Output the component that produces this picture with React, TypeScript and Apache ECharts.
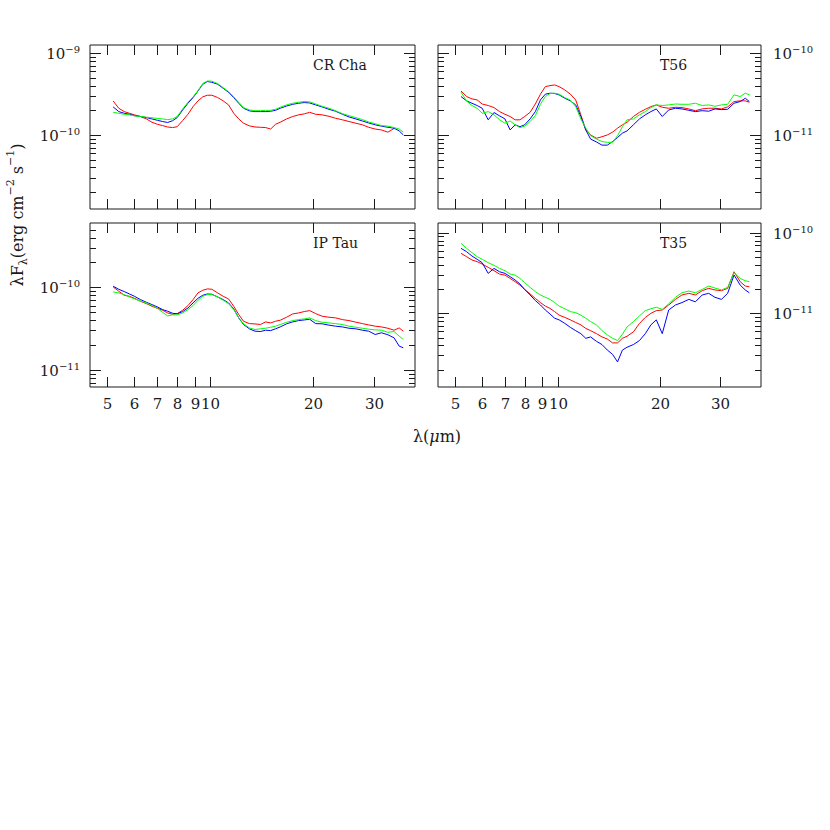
import React, { useEffect, useRef } from "react";
import * as echarts from "echarts";

// wavelength grid (micron), shared by all spectra
const lambda = [5.2, 5.4, 5.6, 5.8, 6.0, 6.25, 6.5, 6.75, 7.0, 7.25, 7.5, 7.75, 8.0, 8.3, 8.6, 8.9, 9.2, 9.5, 9.8, 10.1, 10.5, 10.9, 11.3, 11.7, 12.1, 12.5, 13.0, 13.5, 14.0, 14.5, 15.0, 15.5, 16.0, 16.7, 17.4, 18.1, 18.8, 19.5, 20.3, 21.2, 22.2, 23.2, 24.3, 25.4, 26.6, 27.8, 29.0, 30.3, 31.6, 33.0, 34.4, 35.6, 36.6];

// CR Cha, units of 1e-10 erg cm-2 s-1
const crChaRed = [2.6, 2.12, 1.93, 1.84, 1.76, 1.68, 1.57, 1.43, 1.35, 1.30, 1.25, 1.23, 1.26, 1.50, 1.79, 2.22, 2.61, 2.92, 3.06, 3.06, 2.87, 2.61, 2.33, 1.84, 1.57, 1.39, 1.29, 1.25, 1.24, 1.23, 1.18, 1.35, 1.43, 1.57, 1.68, 1.76, 1.81, 1.89, 1.79, 1.76, 1.69, 1.60, 1.53, 1.46, 1.39, 1.33, 1.24, 1.18, 1.15, 1.08, 1.2, null, null];
const crChaBlue = [2.2, 1.93, 1.84, 1.79, 1.72, 1.68, 1.63, 1.57, 1.51, 1.46, 1.42, 1.49, 1.63, 2.02, 2.44, 2.86, 3.45, 4.17, 4.50, 4.41, 4.17, 3.72, 3.33, 2.86, 2.44, 2.12, 1.97, 1.93, 1.93, 1.93, 1.95, 2.00, 2.12, 2.26, 2.37, 2.44, 2.49, 2.46, 2.33, 2.20, 2.06, 1.95, 1.79, 1.66, 1.57, 1.48, 1.40, 1.33, 1.28, 1.24, 1.21, 1.12, 1.00];
const crChaGreen = [1.89, 1.84, 1.79, 1.76, 1.71, 1.68, 1.65, 1.62, 1.59, 1.57, 1.54, 1.57, 1.68, 2.08, 2.51, 2.92, 3.49, 4.25, 4.58, 4.54, 4.25, 3.79, 3.39, 2.92, 2.51, 2.16, 2.02, 1.98, 1.98, 2.00, 2.00, 2.06, 2.18, 2.33, 2.44, 2.51, 2.56, 2.54, 2.39, 2.24, 2.12, 1.98, 1.82, 1.72, 1.63, 1.54, 1.44, 1.37, 1.30, 1.28, 1.23, 1.18, 1.08];

// T56, units of 1e-11
const t56Red = [3.45, 2.95, 2.76, 2.68, 2.39, 2.29, 2.16, 1.93, 1.79, 1.68, 1.53, 1.53, 1.68, 1.89, 2.39, 3.15, 3.90, 4.01, 4.09, 3.90, 3.55, 3.15, 2.68, 1.76, 1.15, 1.00, 0.91, 0.95, 1.00, 1.08, 1.21, 1.33, 1.43, 1.68, 1.89, 2.06, 2.22, 2.33, 2.18, 2.12, 2.18, 2.16, 2.08, 1.98, 2.08, 2.12, 2.12, 2.08, 2.20, 2.56, 2.61, 2.61, 2.51];
const t56Blue = [2.95, 2.61, 2.44, 2.29, 2.12, 1.53, 1.88, 1.71, 1.57, 1.15, 1.33, 1.26, 1.33, 1.57, 1.93, 2.68, 3.15, 3.24, 3.21, 3.09, 2.81, 2.61, 2.33, 1.68, 1.15, 0.89, 0.82, 0.75, 0.75, 0.83, 0.93, 1.05, 1.12, 1.33, 1.57, 1.76, 1.93, 2.08, 1.68, 2.02, 2.12, 2.08, 2.00, 1.93, 1.98, 1.95, 2.08, 2.04, 2.06, 2.44, 2.56, 2.81, 2.56];
const t56Green = [3.35, 2.6, 2.29, 2.12, 1.84, 1.93, 1.76, 1.53, 1.39, 1.48, 1.33, 1.23, 1.28, 1.46, 1.72, 2.37, 2.95, 3.21, 3.24, 3.15, 2.86, 2.66, 2.22, 1.57, 1.21, 0.98, 0.89, 0.83, 0.81, 0.81, 0.98, 1.26, 1.53, 1.57, 1.76, 1.93, 2.16, 2.33, 2.29, 2.33, 2.39, 2.37, 2.37, 2.44, 2.29, 2.33, 2.24, 2.33, 2.37, 3.09, 2.95, 3.24, 3.09];

// IP Tau, units of 1e-11
const ipTauRed = [10.1, 8.95, 8.0, 7.78, 7.36, 6.77, 6.34, 5.89, 5.57, 5.27, 4.89, 4.71, 4.80, 5.27, 6.0, 7.09, 8.54, 9.2, 9.55, 9.46, 8.54, 7.78, 7.22, 5.89, 4.67, 3.88, 3.63, 3.6, 3.54, 3.81, 3.70, 3.88, 3.99, 4.34, 4.76, 4.89, 5.08, 5.22, 4.80, 4.46, 4.34, 4.26, 4.06, 3.95, 3.78, 3.63, 3.50, 3.38, 3.31, 3.19, 3.02, 3.22, 2.94];
const ipTauBlue = [10.3, 9.45, 8.87, 8.30, 7.78, 7.09, 6.58, 6.17, 5.78, 5.37, 5.13, 4.85, 4.76, 5.08, 5.62, 6.46, 7.36, 8.0, 8.30, 8.23, 7.64, 7.09, 6.46, 5.47, 4.26, 3.54, 3.14, 2.94, 2.91, 3.02, 2.99, 3.14, 3.31, 3.61, 3.81, 3.95, 4.02, 4.10, 3.63, 3.61, 3.48, 3.38, 3.31, 3.19, 3.14, 3.02, 2.94, 2.68, 2.81, 2.66, 2.44, 1.94, 1.85];
const ipTauGreen = [8.79, 8.54, 8.15, 7.64, 7.22, 6.83, 6.46, 6.0, 5.57, 4.98, 4.5, 4.63, 4.63, 4.89, 5.37, 6.0, 6.96, 7.78, 8.15, 8.15, 7.64, 6.96, 6.34, 5.37, 4.26, 3.61, 3.22, 3.08, 3.14, 3.19, 3.28, 3.38, 3.54, 3.77, 3.95, 4.06, 4.14, 4.26, 3.95, 3.77, 3.70, 3.63, 3.54, 3.38, 3.28, 3.19, 3.11, 3.05, 3.02, 2.85, 2.91, 2.56, 2.33];

// T35, units of 1e-11
const t35Red = [5.55, 5.05, 4.59, 4.38, 4.09, 3.72, 3.38, 3.07, 2.98, 2.71, 2.47, 2.24, 1.98, 1.74, 1.53, 1.36, 1.23, 1.15, 1.05, 0.95, 0.89, 0.83, 0.77, 0.72, 0.65, 0.61, 0.56, 0.51, 0.48, 0.43, 0.43, 0.49, 0.52, 0.59, 0.75, 0.89, 1.0, 1.08, 1.10, 1.27, 1.49, 1.69, 1.77, 1.69, 1.91, 2.04, 1.95, 1.91, 2.04, 3.28, 2.47, 2.18, 2.14];
const t35Blue = [6.40, 5.82, 5.14, 4.68, 4.25, 3.13, 3.61, 3.28, 3.13, 2.85, 2.59, 2.31, 1.98, 1.69, 1.44, 1.27, 1.10, 0.98, 0.87, 0.83, 0.75, 0.67, 0.61, 0.56, 0.49, 0.51, 0.45, 0.41, 0.35, 0.31, 0.25, 0.35, 0.38, 0.41, 0.46, 0.56, 0.72, 0.83, 0.56, 1.10, 1.27, 1.36, 1.49, 1.39, 1.69, 1.77, 1.58, 1.49, 1.77, 2.99, 2.24, 1.95, 1.80];
const t35Green = [7.38, 6.40, 5.66, 5.05, 4.68, 4.25, 3.94, 3.61, 3.38, 3.07, 2.98, 2.71, 2.40, 2.10, 1.86, 1.69, 1.58, 1.49, 1.36, 1.23, 1.14, 1.05, 1.02, 0.95, 0.87, 0.79, 0.72, 0.61, 0.54, 0.49, 0.46, 0.55, 0.68, 0.79, 0.93, 1.08, 1.14, 1.19, 1.12, 1.31, 1.58, 1.80, 1.89, 1.80, 1.98, 2.18, 2.06, 1.95, 2.10, 3.19, 2.71, 2.54, 2.47];

// axis ticks
const xTicks = [5, 6, 7, 8, 9, 10, 20, 30];
const xTickLabels = ["5", "6", "7", "8", "9", "10", "20", "30"];
const crChaMajor = [1e-10, 1e-9];
const t56Major = [1e-11, 1e-10];
const ipTauMajor = [1e-11, 1e-10];
const t35Major = [1e-11, 1e-10];
const panelNames = ["CR Cha", "T56", "IP Tau", "T35"];

const X_MIN = 4.45;
const X_MAX = 39.6;
const FONT = "'DejaVu Serif', 'Liberation Serif', serif";
const INK = "#1a1a1a";

const panels = [
  { name: panelNames[0], unit: 1e-10, red: crChaRed, blue: crChaBlue, green: crChaGreen, yMin: 1.24e-11, yMax: 1.26e-9, majors: crChaMajor, side: "left", xLabels: false, grid: { left: 90, top: 45, width: 325, height: 164 } },
  { name: panelNames[1], unit: 1e-11, red: t56Red, blue: t56Blue, green: t56Green, yMin: 1.24e-12, yMax: 1.26e-10, majors: t56Major, side: "right", xLabels: false, grid: { left: 438, top: 45, width: 323, height: 164 } },
  { name: panelNames[2], unit: 1e-11, red: ipTauRed, blue: ipTauBlue, green: ipTauGreen, yMin: 6.2e-12, yMax: 6.0e-10, majors: ipTauMajor, side: "left", xLabels: true, grid: { left: 90, top: 223, width: 325, height: 164 } },
  { name: panelNames[3], unit: 1e-11, red: t35Red, blue: t35Blue, green: t35Green, yMin: 1.22e-12, yMax: 1.32e-10, majors: t35Major, side: "right", xLabels: true, grid: { left: 438, top: 223, width: 323, height: 164 } },
];

function minorTicks(lo: number, hi: number) {
  const out: number[] = [];
  for (let d = Math.floor(Math.log10(lo)); d <= Math.ceil(Math.log10(hi)); d++) {
    for (let k = 2; k <= 9; k++) {
      const v = k * Math.pow(10, d);
      if (v > lo && v < hi) out.push(v);
    }
  }
  return out;
}

const supRich = {
  b: { fontSize: 15, fontFamily: FONT, fill: INK, lineHeight: 18 },
  s: { fontSize: 10, fontFamily: FONT, fill: INK, lineHeight: 10, verticalAlign: "top" },
};

function tickSeries(pi: number, p: any) {
  const data: any[] = [];
  p.majors.forEach((v: number) => data.push([X_MIN, v, 0, 0]));
  minorTicks(p.yMin, p.yMax).forEach((v) => data.push([X_MIN, v, 1, 0]));
  xTicks.forEach((v, i) => data.push([v, p.yMin, 2, i]));
  return {
    type: "custom",
    xAxisIndex: pi,
    yAxisIndex: pi,
    clip: false,
    silent: true,
    z: 10,
    encode: { x: 0, y: 1 },
    data,
    renderItem: (params: any, api: any) => {
      const cs = params.coordSys;
      const kind = api.value(2);
      const pt = api.coord([api.value(0), api.value(1)]);
      const st = { stroke: INK, lineWidth: 1 };
      const children: any[] = [];
      if (kind < 2) {
        const y = Math.round(pt[1]) + 0.5;
        const len = kind === 0 ? 11 : 6;
        children.push({ type: "line", shape: { x1: cs.x, y1: y, x2: cs.x + len, y2: y }, style: st });
        children.push({ type: "line", shape: { x1: cs.x + cs.width - len, y1: y, x2: cs.x + cs.width, y2: y }, style: st });
        if (kind === 0) {
          const e = Math.round(Math.log10(api.value(1)));
          const txt = "{b|10}{s|\u2212" + Math.abs(e) + "}";
          const left = p.side === "left";
          children.push({
            type: "text",
            x: left ? cs.x - 10 : cs.x + cs.width + 12,
            y: y,
            style: { text: txt, rich: supRich, align: left ? "right" : "left", verticalAlign: "middle", fill: INK },
          });
        }
      } else {
        const x = Math.round(pt[0]) + 0.5;
        const yb = cs.y + cs.height;
        children.push({ type: "line", shape: { x1: x, y1: yb, x2: x, y2: yb - 10 }, style: st });
        children.push({ type: "line", shape: { x1: x, y1: cs.y, x2: x, y2: cs.y + 10 }, style: st });
        if (p.xLabels) {
          children.push({
            type: "text",
            x: x,
            y: yb + 17,
            style: { text: xTickLabels[api.value(3)], fontSize: 15, fontFamily: FONT, fill: INK, align: "center", verticalAlign: "middle" },
          });
        }
      }
      return { type: "group", children };
    },
  };
}

function lineSeries(pi: number, arr: (number | null)[], unit: number, color: string) {
  return {
    type: "line",
    xAxisIndex: pi,
    yAxisIndex: pi,
    showSymbol: false,
    symbol: "none",
    silent: true,
    data: lambda.map((l, i) => (arr[i] == null ? [l, "-"] : [l, (arr[i] as number) * unit])),
    lineStyle: { color, width: 1 },
    itemStyle: { color },
  };
}

export default function App() {
  const ref = useRef<HTMLDivElement>(null);
  useEffect(() => {
    if (!ref.current) return;
    const chart = echarts.init(ref.current, undefined, { renderer: "svg" });
    const grids = panels.map((p) => ({ ...p.grid, show: true, borderColor: INK, borderWidth: 1, backgroundColor: "transparent", containLabel: false }));
    const xAxes = panels.map((p, i) => ({
      type: "log", logBase: 10, gridIndex: i, min: X_MIN, max: X_MAX,
      axisLine: { show: false }, axisTick: { show: false }, axisLabel: { show: false }, splitLine: { show: false },
    }));
    const yAxes = panels.map((p, i) => ({
      type: "log", logBase: 10, gridIndex: i, min: p.yMin, max: p.yMax,
      axisLine: { show: false }, axisTick: { show: false }, axisLabel: { show: false }, splitLine: { show: false },
    }));
    const series: any[] = [];
    panels.forEach((p, i) => {
      series.push(lineSeries(i, p.red, p.unit, "#ff0000"));
      series.push(lineSeries(i, p.blue, p.unit, "#0000ff"));
      series.push(lineSeries(i, p.green, p.unit, "#00ff00"));
      series.push(tickSeries(i, p));
    });
    const titlePos = [[313, 65], [660, 65], [313, 243], [660, 243]];
    const graphic: any[] = panels.map((p, i) => ({
      type: "text",
      x: titlePos[i][0],
      y: titlePos[i][1],
      style: { text: p.name, fontSize: 14, fontFamily: FONT, fill: INK, align: "left", verticalAlign: "middle" },
    }));
    graphic.push({
      type: "text",
      x: 17,
      y: 215,
      rotation: Math.PI / 2,
      style: {
        text: "{m|\u03bbF}{sub|\u03bb}{m|(erg cm}{sup|\u22122}{m| s}{sup|\u22121}{m|)}",
        align: "center",
        verticalAlign: "middle",
        rich: {
          m: { fontSize: 16, fontFamily: FONT, fill: INK, lineHeight: 24 },
          sub: { fontSize: 11, fontFamily: FONT, fill: INK, lineHeight: 12, verticalAlign: "bottom" },
          sup: { fontSize: 11, fontFamily: FONT, fill: INK, lineHeight: 12, verticalAlign: "top" },
        },
      },
    });
    graphic.push({
      type: "text",
      x: 437,
      y: 436,
      style: {
        text: "{m|\u03bb(}{i|\u03bc}{m|m)}",
        align: "center",
        verticalAlign: "middle",
        rich: {
          m: { fontSize: 16, fontFamily: FONT, fill: INK },
          i: { fontSize: 16, fontFamily: FONT, fontStyle: "italic", fill: INK },
        },
      },
    });
    chart.setOption({
      animation: false,
      backgroundColor: "#ffffff",
      grid: grids,
      xAxis: xAxes,
      yAxis: yAxes,
      series,
      graphic,
    });
    return () => chart.dispose();
  }, []);
  return <div ref={ref} style={{ position: "absolute", left: 0, top: 0, width: 830, height: 830 }} />;
}
